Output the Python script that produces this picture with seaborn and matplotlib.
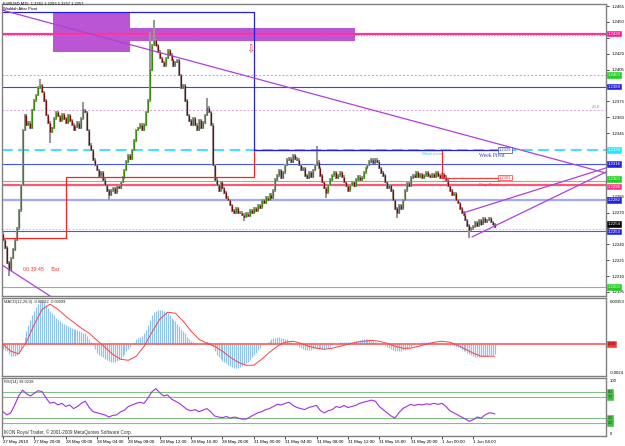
import numpy as np
import matplotlib
matplotlib.use("Agg")
import matplotlib.pyplot as plt
import matplotlib.transforms as mtransforms
from matplotlib.patches import Rectangle
import seaborn as sns

# ---------------- data ----------------
header_text = "EURUSD,M15  1.2261 1.2263 1.2257 1.2257"
indicator_text = "Waddah Attar Pivot"
macd_text = "MACD(12,26,9) -0.00082 -0.00099"
rsi_text = "RSI(14) 38.0238"
copyright_text = "IKON Royal Trader, \u00a9 2001-2009 MetaQuotes Software Corp."
timer_text = "00:39:45     Bar"

first_open = 1.2250
closes = [
    1.2244, 1.2237, 1.2223, 1.2216, 1.2227, 1.2235, 1.2244, 1.2255, 1.2272, 1.2296,
    1.2348, 1.2362, 1.2353, 1.2355, 1.2350, 1.2367, 1.2376, 1.2381, 1.2388, 1.2390,
    1.2384, 1.2376, 1.2362, 1.2355, 1.2346, 1.2350, 1.2359, 1.2365, 1.2361, 1.2357,
    1.2363, 1.2359, 1.2355, 1.2362, 1.2357, 1.2353, 1.2348, 1.2351, 1.2355, 1.2350,
    1.2359, 1.2367, 1.2365, 1.2348, 1.2334, 1.2329, 1.2320, 1.2315, 1.2310, 1.2305,
    1.2308, 1.2301, 1.2296, 1.2291, 1.2287, 1.2291, 1.2293, 1.2289, 1.2295, 1.2293,
    1.2299, 1.2303, 1.2310, 1.2318, 1.2324, 1.2321, 1.2329, 1.2338, 1.2348, 1.2350,
    1.2353, 1.2348, 1.2353, 1.2365, 1.2376, 1.2405, 1.2428, 1.2433, 1.2428, 1.2422,
    1.2416, 1.2412, 1.2409, 1.2416, 1.2423, 1.2419, 1.2414, 1.2409, 1.2412, 1.2414,
    1.2400, 1.2388, 1.2390, 1.2376, 1.2362, 1.2357, 1.2353, 1.2359, 1.2353, 1.2348,
    1.2357, 1.2350, 1.2355, 1.2362, 1.2369, 1.2365, 1.2353, 1.2315, 1.2301, 1.2296,
    1.2291, 1.2299, 1.2293, 1.2289, 1.2284, 1.2282, 1.2277, 1.2272, 1.2270, 1.2274,
    1.2270, 1.2270, 1.2268, 1.2266, 1.2269, 1.2267, 1.2272, 1.2270, 1.2274, 1.2272,
    1.2277, 1.2275, 1.2282, 1.2279, 1.2284, 1.2282, 1.2287, 1.2284, 1.2291, 1.2301,
    1.2305, 1.2310, 1.2303, 1.2308, 1.2315, 1.2320, 1.2321, 1.2318, 1.2324, 1.2321,
    1.2320, 1.2315, 1.2310, 1.2312, 1.2305, 1.2303, 1.2308, 1.2304, 1.2310, 1.2315,
    1.2318, 1.2312, 1.2305, 1.2299, 1.2293, 1.2289, 1.2296, 1.2301, 1.2305, 1.2308,
    1.2303, 1.2305, 1.2308, 1.2304, 1.2299, 1.2295, 1.2291, 1.2296, 1.2299, 1.2295,
    1.2301, 1.2304, 1.2301, 1.2303, 1.2308, 1.2312, 1.2315, 1.2318, 1.2320, 1.2317,
    1.2320, 1.2318, 1.2312, 1.2308, 1.2305, 1.2299, 1.2293, 1.2296, 1.2291, 1.2282,
    1.2274, 1.2270, 1.2277, 1.2274, 1.2282, 1.2291, 1.2298, 1.2295, 1.2303, 1.2305,
    1.2304, 1.2308, 1.2304, 1.2306, 1.2303, 1.2305, 1.2308, 1.2305, 1.2304, 1.2306,
    1.2304, 1.2308, 1.2305, 1.2303, 1.2306, 1.2304, 1.2301, 1.2295, 1.2291, 1.2287,
    1.2288, 1.2282, 1.2279, 1.2274, 1.2270, 1.2268, 1.2263, 1.2258, 1.2254, 1.2255,
    1.2257, 1.2261, 1.2258, 1.2263, 1.2259, 1.2265, 1.2261, 1.2263, 1.2265, 1.2261,
    1.2259, 1.2257,
]
spike_highs = {19: 1.2396, 41: 1.2374, 75: 1.2440, 77: 1.2452, 104: 1.2378, 160: 1.2333}
spike_lows = {3: 1.2210, 24: 1.2336, 54: 1.2282, 123: 1.2262, 165: 1.2284, 201: 1.2265, 238: 1.2246}

x_tick_bars = [0, 16, 32, 48, 64, 80, 96, 112, 128, 144, 160, 176, 192, 208, 224, 240]
x_tick_labels = ["27 May 2010", "27 May 20:00", "28 May 00:00", "28 May 04:00",
                 "28 May 08:00", "28 May 12:00", "28 May 16:00", "28 May 20:00",
                 "31 May 00:00", "31 May 04:00", "31 May 08:00", "31 May 12:00",
                 "31 May 16:00", "31 May 20:00", "1 Jun 00:00", "1 Jun 04:00"]
price_ticks = [1.2195, 1.2210, 1.2225, 1.2240, 1.2255, 1.2270, 1.2285, 1.2300,
               1.2315, 1.2330, 1.2345, 1.2360, 1.2375, 1.2390, 1.2405, 1.2420,
               1.2435, 1.2450, 1.2465]
price_tick_labels = ["1.2195", "1.2210", "1.2225", "1.2240", "", "1.2270", "1.2285", "",
                     "", "", "1.2345", "1.2360", "1.2375", "", "1.2405", "1.2420",
                     "", "1.2450", "1.2465"]

level_prices = [1.2439, 1.2400, 1.2389, 1.2329, 1.2316, 1.2300, 1.2296, 1.2282, 1.2254, 1.2253, 1.2200]
level_labels = ["1.2439", "1.2400", "1.2389", "1.2329", "1.2316", "1.2300", "1.2296", "1.2282", "1.2254", "1.2253", "1.2200"]

week_pivot_bars = [0, 128, 252]
week_pivot_values = [1.2459, 1.2329]
day_pivot_bars = [0, 32, 128, 224, 252]
day_pivot_values = [1.2246, 1.2304, 1.2329, 1.2303]
fib_level = 1.2367
fib_label = "23.6"

zone_bars = [(25.5, 64.8), (64.8, 179.6)]
zone_prices = [(1.2422, 1.2459), (1.2432, 1.2444)]
trend_bars = [(-1.5, 307.7), (-0.5, 30.0), (234.7, 307.7), (239.3, 307.7)]
trend_prices = [(1.24617, 1.23073), (1.22205, 1.21840), (1.22696, 1.23121), (1.22469, 1.23083)]

macd_hist = [
    -40, -50, -60, -80, -95, -100, -100, -90, -70, -30, 10,
    60, 110, 160, 200, 240, 280, 310, 340, 355, 360, 350,
    330, 300, 280, 260, 240, 220, 210, 190, 180, 170, 160,
    150, 140, 135, 130, 125, 120, 110, 100, 95, 90, 70, 40, 20,
    -10, -40, -70, -90, -100, -110, -120, -130, -140, -145, -150, -145, -140, -130, -120,
    -100, -80, -60, -40, -20, 0, 20, 40, 50, 60,
    70, 90, 120, 160, 200, 240, 270, 280, 290, 290, 285, 280, 270, 260,
    240, 220, 200, 190, 170, 150, 130, 110, 90, 60, 40, 30, 20, 10, 10, 5,
    0, 10, 20, 30, 20, 10, -20, -60, -90, -110, -120, -140,
    -150, -160, -170, -180, -190, -195, -200, -200,
    -190, -180, -170, -160, -150, -130, -110, -90, -70, -50, -30, -10, 0, 10, 20,
    30, 40, 50, 55, 60, 60, 55, 50, 45, 40, 30, 20, 10, 0, -10, -20, -30, -40, -45, -50,
    -50, -45, -40, -35, -30, -30, -35, -40, -40, -35, -30, -20, -10, 0, 5, 10, 15, 20, 20, 20,
    15, 15, 20, 20, 25, 30, 35, 40, 40, 40, 40, 35, 30, 25, 20,
    15, 10, 5, 0, -10, -20, -30, -40, -50, -55, -60, -60, -55, -50, -45, -40, -30, -20, -10, 0,
    5, 10, 10, 15, 15, 15, 15, 15, 15, 15, 10, 10, 10, 5, 5,
    5, 0, -5, -10, -15, -20, -25, -35, -45, -55,
    -60, -70, -80, -90, -100, -105, -108, -105, -100, -100, -98, -95, -92, -90, -86, -82,
]
macd_signal_bars = list(range(0, 249, 4)) + [251]
macd_signal = [
    0, -58, -80, 20, 167, 292, 334, 292, 234, 184,
    134, 92, 33, -25, -84, -125, -134, -100, -17, 100,
    209, 267, 259, 192, 109, 42, 8, -17, -58, -109,
    -150, -175, -175, -125, -67, -17, 17, 25, 8, -17,
    -33, -42, -33, -17, 0, 17, 25, 33, 25, 8,
    -17, -33, -33, -17, 0, 17, 25, 17, -8, -42,
    -75, -100, -100, -99,
]
macd_scale = 1e-5  # values above are in 1e-5 units

rsi_bars = list(range(0, 251, 2)) + [251]
rsi_values = [
    42, 36, 40, 55, 72, 83, 76, 72, 77, 82,
    80, 68, 58, 60, 55, 58, 52, 55, 48, 52,
    58, 62, 50, 42, 40, 38, 36, 32, 35, 36,
    42, 45, 52, 55, 58, 60, 58, 68, 80, 86,
    78, 72, 74, 66, 62, 58, 52, 46, 44, 46,
    42, 45, 48, 42, 34, 32, 31, 33, 30, 32,
    30, 28, 28, 32, 36, 40, 42, 46, 48, 52,
    56, 55, 58, 60, 54, 50, 48, 46, 50, 52,
    54, 44, 40, 44, 46, 52, 50, 54, 50, 52,
    54, 58, 60, 62, 64, 62, 52, 46, 40, 34,
    30, 40, 48, 52, 56, 54, 56, 55, 57, 56,
    58, 56, 58, 52, 44, 40, 36, 32, 28, 24,
    27, 32, 30, 36, 40, 39, 38.02,
]
rsi_levels = [80, 70, 30, 20]

# ---------------- figure ----------------
sns.set_theme(style="white")
plt.rcParams['font.family'] = ['Liberation Sans', 'DejaVu Sans']

W, H = 625, 446
fig = plt.figure(figsize=(W / 100, H / 100), dpi=100)
fig.patch.set_facecolor('white')


def rect(x0, y0, x1, y1):
    return [x0 / W, 1 - y1 / H, (x1 - x0) / W, (y1 - y0) / H]


ax = fig.add_axes(rect(2, 4, 606, 296))
axm = fig.add_axes(rect(2, 298, 606, 376))
axr = fig.add_axes(rect(2, 378, 606, 436))
for a in (ax, axm, axr):
    a.set_facecolor('white')
    a.set_xlim(-0.5, 307.7)
    a.grid(False)
    for s in a.spines.values():
        s.set_color('#808080')
        s.set_linewidth(1.0)
    a.tick_params(axis='x', bottom=False, labelbottom=False)

LBLX = 607.5 / W
FS = 3.1


def side_label(axis, y, txt, fc, tc='white', ec=None, dy_px=0.0):
    tr = mtransforms.blended_transform_factory(fig.transFigure, axis.transData)
    if dy_px:
        tr = tr + mtransforms.ScaledTranslation(0, -dy_px / 100, fig.dpi_scale_trans)
    axis.text(LBLX, y, txt, transform=tr, ha='left', va='center', fontsize=FS,
              color=tc, zorder=30, clip_on=False,
              bbox=dict(boxstyle='square,pad=0.22', fc=fc, ec=ec or fc, lw=0.4))


def plain_label(axis, y, txt, color='black'):
    tr = mtransforms.blended_transform_factory(fig.transFigure, axis.transData)
    axis.text(610 / W, y, txt, transform=tr, ha='left', va='center', fontsize=FS,
              color=color, zorder=30, clip_on=False)


# ---- main price panel ----
ax.set_ylim(1.21912, 1.24669)
ax.yaxis.tick_right()
ax.set_yticks(price_ticks)
ax.set_yticklabels(price_tick_labels)
ax.tick_params(axis='y', right=True, left=False, length=2, width=0.5, pad=2,
               labelsize=FS, colors='black')

# zones
for (b0, b1), (p0, p1) in zip(zone_bars, zone_prices):
    ax.add_patch(Rectangle((b0, p0), b1 - b0, p1 - p0, fc='#BA55D3', ec='none', zorder=1.5))

# level lines
level_styles = [
    dict(color='#FF3399', lw=1.6, ls='-'),
    dict(color='#66E066', lw=0.7, ls=(0, (2, 2))),
    dict(color='#3344FF', lw=0.8, ls='-'),
    dict(color='#33DDFF', lw=1.3, ls=(0, (6, 3))),
    dict(color='#4455FF', lw=0.8, ls='-'),
    dict(color='#55DD55', lw=0.8, ls='-'),
    dict(color='#FF5577', lw=1.6, ls='-'),
    dict(color='#A0A8FF', lw=1.6, ls='-'),
    dict(color='#BBBBBB', lw=0.6, ls=(0, (2, 2))),
    dict(color='#4455FF', lw=0.8, ls='-'),
    dict(color='#55DD55', lw=0.8, ls='-'),
]
for p, st in zip(level_prices, level_styles):
    ax.axhline(p, zorder=2, **st)
ax.axhline(level_prices[0] - 0.00012, color='#8888DD', lw=0.5, ls=(0, (2, 2)), zorder=2)
ax.axhline(fib_level, color='#DDA0DD', lw=0.7, ls=(0, (2, 2)), zorder=2)
ax.text(302.5, fib_level + 0.0001, fib_label, fontsize=FS, color='#B070B0', ha='center',
        va='bottom', zorder=5)

label_styles = [
    dict(fc='#FF1493'), dict(fc='#22CC22'), dict(fc='#2222DD'), dict(fc='#22E5FF'),
    dict(fc='#2222DD'), dict(fc='#22CC22', dy_px=-1.5), dict(fc='#FF3380', dy_px=1.5),
    dict(fc='#2222DD', dy_px=0.5),
    dict(fc='#000000', dy_px=-5.5), dict(fc='#2222DD', dy_px=1.0), dict(fc='#22CC22'),
]
for p, t, st in zip(level_prices, level_labels, label_styles):
    side_label(ax, p, t, **st)

# pivots (step lines)
def step_xy(bars, vals):
    xs, ys = [], []
    for k, v in enumerate(vals):
        xs += [bars[k], bars[k + 1]]
        ys += [v, v]
    return xs, ys

dx, dy = step_xy(day_pivot_bars, day_pivot_values)
ax.plot(dx, dy, color='#FF2020', lw=0.9, zorder=6)
wx, wy = step_xy(week_pivot_bars, week_pivot_values)
ax.plot(wx, wy, color='#2020DD', lw=0.9, zorder=6)

# trend lines
for (b0, b1), (p0, p1) in zip(trend_bars, trend_prices):
    ax.plot([b0, b1], [p0, p1], color='#B040D8', lw=0.9, zorder=6)

# candles
n = len(closes)
idx = np.arange(n)
c = np.array(closes)
o = np.array([first_open] + closes[:-1])
top = np.maximum(o, c)
bot = np.minimum(o, c)
hi = top + 0.00012
lo = bot - 0.00012
for k, v in spike_highs.items():
    hi[k] = v
for k, v in spike_lows.items():
    lo[k] = v
ax.vlines(idx, lo, hi, color='#B0B0B0', lw=1.5, zorder=3)
up = c >= o
ax.vlines(idx, lo, hi, color='#505050', lw=0.35, zorder=3.5)
ax.vlines(idx[up], bot[up], top[up] + 0.00003, color='#3C8A0C', lw=0.9, zorder=4)
ax.vlines(idx[~up], bot[~up] - 0.00003, top[~up], color='#7A0A0A', lw=0.9, zorder=4)

# pivot annotations
ax.text(214, 1.23275, "Week pivot", fontsize=3.0, color='#40D0F0', va='top', ha='left', zorder=7)
ax.text(243, 1.23265, "Week Pivot", fontsize=4.0, color='#3040C0', va='top', ha='left',
        family='Liberation Serif', zorder=7)
ax.text(253, 1.2329, "1.2329", fontsize=3.0, color='#3040C0', va='center', ha='left', zorder=8,
        bbox=dict(boxstyle='square,pad=0.2', fc='white', ec='#3040C0', lw=0.5))
ax.plot([224, 253], [1.2303, 1.2303], color='#FF4040', lw=0.6, zorder=6)
ax.plot([224, 253], [1.22995, 1.22995], color='#FF4040', lw=0.6, zorder=6)
ax.text(243, 1.22975, "Day Pivot", fontsize=3.6, color='#FF3030', va='top', ha='left',
        family='Liberation Serif', zorder=7)
ax.text(253, 1.2303, "1.2303", fontsize=3.0, color='#FF3030', va='center', ha='left', zorder=8,
        bbox=dict(boxstyle='square,pad=0.2', fc='white', ec='#FF3030', lw=0.5))
ax.text(126, 1.2424, "\u21e9", fontsize=7, color='#FF3030', family='DejaVu Sans',
        ha='center', va='center', zorder=8)
ax.text(10, 1.2216, timer_text, fontsize=3.8, color='#FF3030', va='center', ha='left', zorder=7)

fig.text(3 / W, 1 - 2 / H, header_text, fontsize=2.9, color='black', va='top', ha='left')
fig.text(3 / W, 1 - 7.5 / H, indicator_text, fontsize=2.9, color='black', va='top', ha='left')

# ---- MACD panel ----
axm.set_ylim(-0.00265, 0.00386)
axm.set_yticks([])
axm.vlines(idx, 0, np.array(macd_hist) * macd_scale, color='#8EC3F0', lw=0.85, zorder=2)
axm.axhline(0, color='#FF5050', lw=1.1, zorder=3)
sns.lineplot(x=macd_signal_bars, y=np.array(macd_signal) * macd_scale, ax=axm,
             color='#FF4040', lw=0.7, zorder=4)
axm.set_xlim(-0.5, 307.7)
axm.set_xlabel("")
axm.set_ylabel("")
axm.text(0.004, 0.97, macd_text, transform=axm.transAxes, fontsize=2.9, va='top', ha='left')
plain_label(axm, 0.00353, "0.00353")
plain_label(axm, -0.0024, "-0.0024")
side_label(axm, 0.0, "0.00", fc='#FF3333', tc='#202020')

# ---- RSI panel ----
axr.set_ylim(-4, 106)
axr.set_yticks([])
for lv in rsi_levels:
    axr.axhline(lv, color='#80C080', lw=0.8, zorder=2)
sns.lineplot(x=rsi_bars, y=rsi_values, ax=axr, color='#A030E8', lw=0.8, zorder=4)
axr.set_xlim(-0.5, 307.7)
axr.set_ylabel("")
axr.text(0.004, 0.96, rsi_text, transform=axr.transAxes, fontsize=2.9, va='top', ha='left')
axr.text(0.004, 0.02, copyright_text, transform=axr.transAxes, fontsize=3.3, va='bottom', ha='left',
         color='#303030')
plain_label(axr, 100, "100")
plain_label(axr, 0, "0")
for lv in rsi_levels:
    side_label(axr, lv, str(lv), fc='#44BB44', tc='#205020')

axr.set_xticks(x_tick_bars)
axr.set_xticklabels(x_tick_labels, ha='left')
axr.tick_params(axis='x', bottom=True, labelbottom=True, length=2, width=0.5, pad=1,
                labelsize=3.2, colors='black')
axr.set_xlabel("")

fig.savefig("out.png", dpi=100, facecolor='white')
